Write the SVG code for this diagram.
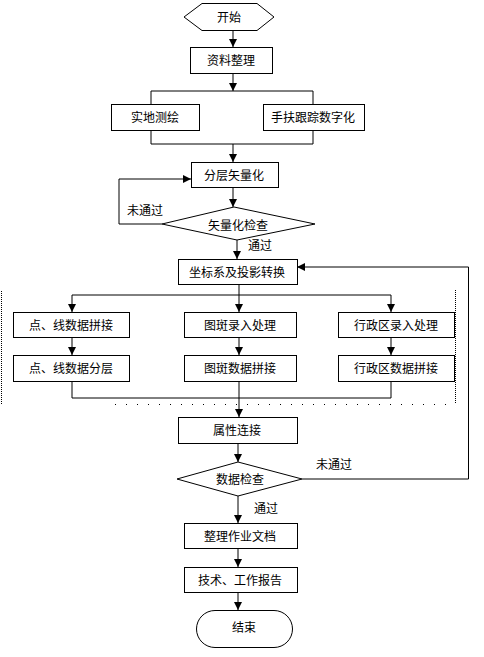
<svg xmlns="http://www.w3.org/2000/svg" width="484" height="657" viewBox="0 0 484 657">
<style>
.n{fill:#fff;stroke:#000;stroke-width:1}
.c{fill:none;stroke:#000;stroke-width:1}
.d{fill:none;stroke:#000;stroke-width:1;stroke-dasharray:1,1}
.ds{fill:none;stroke:#000;stroke-width:1;stroke-dasharray:1,10}
text{font-family:"Noto Sans CJK SC","Noto Sans",sans-serif;font-size:12px;text-anchor:middle;fill:#000}
</style>
<defs>
<marker id="a" markerUnits="userSpaceOnUse" markerWidth="9" markerHeight="9" refX="8" refY="4" orient="auto">
<path d="M0,0 L8,4 L0,8 z" fill="#000"/>
</marker>
</defs>
<rect width="484" height="657" fill="#fff"/>
<g id="frame">
<path class="d" d="M1.5,291 V405"/>
<path class="d" d="M455.5,290 V403"/>
<path class="ds" d="M115,404.5 H452"/>
</g>
<g id="connectors">
<path class="c" d="M233,30 V47" marker-end="url(#a)"/>
<path class="c" d="M233,73 V91" marker-end="url(#a)"/>
<path class="c" d="M151,104 V91 H313 V104"/>
<path class="c" d="M151,130 V144 H313 V130"/>
<path class="c" d="M233,144 V162" marker-end="url(#a)"/>
<path class="c" d="M233,187 V207" marker-end="url(#a)"/>
<path class="c" d="M162,224 H119 V179 H191" marker-end="url(#a)"/>
<path class="c" d="M237,240 V259" marker-end="url(#a)"/>
<path class="c" d="M239,284 V295 H72 V312" marker-end="url(#a)"/>
<path class="c" d="M239,295 V312" marker-end="url(#a)"/>
<path class="c" d="M239,295 H391 V312" marker-end="url(#a)"/>
<path class="c" d="M72,337 V355" marker-end="url(#a)"/>
<path class="c" d="M239,337 V355" marker-end="url(#a)"/>
<path class="c" d="M391,337 V355" marker-end="url(#a)"/>
<path class="c" d="M72,381 V398 H391 V381"/>
<path class="c" d="M239,381 V417" marker-end="url(#a)"/>
<path class="c" d="M238,443 V462" marker-end="url(#a)"/>
<path class="c" d="M302,479 H468.5 V267 H297" marker-end="url(#a)"/>
<path class="c" d="M238,496 V523" marker-end="url(#a)"/>
<path class="c" d="M238,548 V567" marker-end="url(#a)"/>
<path class="c" d="M238,592 V610" marker-end="url(#a)"/>
</g>
<g id="labels">
<text x="145" y="214.5">未通过</text>
<text x="260" y="249.5">通过</text>
<text x="334" y="468.5">未通过</text>
<text x="266" y="512.5">通过</text>
</g>
<g id="start"><polygon class="n" points="184,17 202,3.5 257,3.5 274,17 257,30.5 202,30.5"/><text x="229" y="21.5">开始</text></g>
<g id="n1"><rect class="n" x="190.5" y="47.5" width="82" height="26"/><text x="231" y="64.5">资料整理</text></g>
<g id="n2"><rect class="n" x="111.5" y="104.5" width="88" height="26"/><text x="155" y="121.5">实地测绘</text></g>
<g id="n3"><rect class="n" x="263.5" y="104.5" width="101" height="26"/><text x="313" y="121.5">手扶跟踪数字化</text></g>
<g id="n4"><rect class="n" x="191.5" y="162.5" width="87" height="25"/><text x="234" y="179.5">分层矢量化</text></g>
<g id="d1"><polygon class="n" points="234,207 315,224 237,240 162,224"/><text x="238" y="229.5">矢量化检查</text></g>
<g id="n5"><rect class="n" x="178.5" y="259.5" width="119" height="25"/><text x="237" y="276.5">坐标系及投影转换</text></g>
<g id="n6"><rect class="n" x="13.5" y="312.5" width="116" height="25"/><text x="71" y="329.5">点、线数据拼接</text></g>
<g id="n7"><rect class="n" x="184.5" y="312.5" width="112" height="25"/><text x="240" y="329.5">图斑录入处理</text></g>
<g id="n8"><rect class="n" x="338.5" y="312.5" width="116" height="25"/><text x="396" y="329.5">行政区录入处理</text></g>
<g id="n9"><rect class="n" x="13.5" y="355.5" width="116" height="26"/><text x="71" y="372.5">点、线数据分层</text></g>
<g id="n10"><rect class="n" x="184.5" y="355.5" width="112" height="26"/><text x="240" y="372.5">图斑数据拼接</text></g>
<g id="n11"><rect class="n" x="338.5" y="355.5" width="116" height="26"/><text x="396" y="372.5">行政区数据拼接</text></g>
<g id="n12"><rect class="n" x="178.5" y="417.5" width="119" height="26"/><text x="237" y="434.5">属性连接</text></g>
<g id="d2"><polygon class="n" points="238,462 302,479 238,496 177,479"/><text x="240" y="483.5">数据检查</text></g>
<g id="n13"><rect class="n" x="184.5" y="523.5" width="113" height="25"/><text x="240" y="540.5">整理作业文档</text></g>
<g id="n14"><rect class="n" x="184.5" y="567.5" width="113" height="25"/><text x="240" y="584.5">技术、工作报告</text></g>
<g id="end"><rect class="n" x="196.5" y="610.5" width="96" height="37" rx="18.5" ry="18.5"/><text x="244" y="632">结束</text></g>
</svg>
